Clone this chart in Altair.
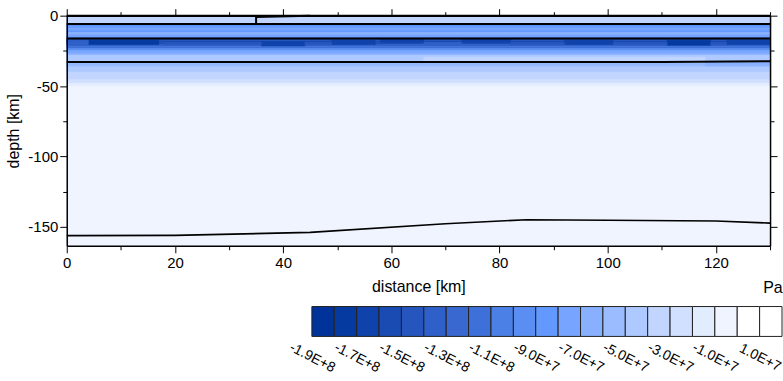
import altair as alt
import pandas as pd

FONT = "Liberation Sans"

# ---------------- data ----------------
X_DOMAIN = [0, 130]
DEPTH_DOMAIN = [-163.5, 0]

# horizontal stress bands (depth in km, value in 1E+6 Pa)
BAND_TOP = [0, -6.0, -7.5, -9.0, -10.5, -12.0, -13.5, -15.0, -16.0, -17.5, -19.0,
            -20.5, -22.0, -23.5, -25.0, -26.5, -28.0, -33.0, -34.5, -35.5, -36.5,
            -40.0, -45.5, -48.0, -50.0]
BAND_BOTTOM = [-6.0, -7.5, -9.0, -10.5, -12.0, -13.5, -15.0, -16.0, -17.5, -19.0,
               -20.5, -22.0, -23.5, -25.0, -26.5, -28.0, -33.0, -34.5, -35.5, -36.5,
               -40.0, -45.5, -48.0, -50.0, -163.5]
BAND_VALUE = [-35, -95, -85, -75, -85, -65, -75, -85, -145, -155, -155,
              -135, -115, -95, -75, -65, -45, -55, -65, -55, -45,
              -35, -25, -15, -5]

# local stress anomalies (patches)
BLOB_X0 = [4, 36, 49, 58, 73, 92, 111, 122, 0, 18, 44, 66, 82, 101, 119, 66, 118]
BLOB_X1 = [17, 44, 57, 66, 82, 101, 119, 130, 4, 36, 49, 73, 92, 111, 122, 118, 130]
BLOB_TOP = [-17.5, -18.5, -17.5, -16.5, -16.5, -17.5, -17.5, -17.5,
            -17.5, -19.0, -19.0, -19.0, -19.0, -19.0, -19.0, -29.5, -33.0]
BLOB_BOTTOM = [-20.5, -21.5, -20.5, -19.0, -19.0, -20.5, -21.0, -20.5,
               -20.5, -20.5, -20.5, -20.5, -20.5, -20.5, -20.5, -32.5, -35.5]
BLOB_VALUE = [-175, -165, -165, -165, -165, -165, -175, -165,
              -135, -145, -145, -135, -145, -145, -145, -35, -65]

# interfaces
IF1_X = [0, 130]
IF1_D = [-6.0, -6.0]
IF2_X = [0, 130]
IF2_D = [-16.2, -16.2]
IF3_X = [0, 60, 110, 130]
IF3_D = [-33.0, -33.0, -32.9, -32.4]
LAB_X = [0, 20, 45, 70, 85, 100, 120, 130]
LAB_D = [-156.3, -156.1, -154.0, -147.8, -145.0, -145.4, -145.9, -147.4]
SURF_X = [0, 130]
SURF_D = [0, 0]
WEDGE_X = [35, 45]
WEDGE_D = [-0.9, 0]
FAULT_X = [35, 35]
FAULT_D = [0, -6.0]

# colour levels (1E+6 Pa)
LEVELS = [-190, -180, -170, -160, -150, -140, -130, -120, -110, -100, -90,
          -80, -70, -60, -50, -40, -30, -20, -10, 0, 10, 20]
THRESHOLDS = [-180, -170, -160, -150, -140, -130, -120, -110, -100, -90,
              -80, -70, -60, -50, -40, -30, -20, -10, 0, 10]
COLORS = ["#00339a", "#053aa0", "#0f42aa", "#1a4bb3", "#2656bd", "#2f5fc8",
          "#3868d0", "#3d70d8", "#4b80e6", "#5a8ef3", "#6399ff", "#77a4ff",
          "#88b0ff", "#9bbdff", "#aec9ff", "#c1d5ff", "#d2e0ff", "#e2ecff",
          "#eff4ff", "#ffffff", "#ffffff"]
LABEL_VALUES = [-190, -170, -150, -130, -110, -90, -70, -50, -30, -10, 10]
LABEL_TEXTS = ["-1.9E+8", "-1.7E+8", "-1.5E+8", "-1.3E+8", "-1.1E+8", "-9.0E+7",
               "-7.0E+7", "-5.0E+7", "-3.0E+7", "-1.0E+7", "1.0E+7"]
LEGEND_DOMAIN = [-299.5, 20]

X_MAJOR = [0, 20, 40, 60, 80, 100, 120]
X_MINOR = [10, 30, 50, 70, 90, 110, 130]
Y_MAJOR = [0, -50, -100, -150]
Y_MINOR = [-25, -75, -125]

# ---------------- tables ----------------
bands = pd.DataFrame({"x0": [X_DOMAIN[0]] * len(BAND_TOP), "x1": [X_DOMAIN[1]] * len(BAND_TOP),
                      "top": BAND_TOP, "bottom": BAND_BOTTOM, "value": BAND_VALUE})
blobs = pd.DataFrame({"x0": BLOB_X0, "x1": BLOB_X1, "top": BLOB_TOP,
                      "bottom": BLOB_BOTTOM, "value": BLOB_VALUE})


def line_df(pairs):
    rows = []
    for name, xs_, ds_ in pairs:
        for i, (a, b) in enumerate(zip(xs_, ds_)):
            rows.append({"id": name, "o": i, "x": a, "d": b})
    return pd.DataFrame(rows)


interfaces = line_df([("i1", IF1_X, IF1_D), ("i2", IF2_X, IF2_D), ("i3", IF3_X, IF3_D)])
lab = line_df([("lab", LAB_X, LAB_D)])
surface = line_df([("s", SURF_X, SURF_D), ("w", WEDGE_X, WEDGE_D), ("f", FAULT_X, FAULT_D)])

color_scale = alt.Scale(type="threshold", domain=THRESHOLDS, range=COLORS)
xs = alt.Scale(domain=X_DOMAIN, nice=False, zero=False)
ys = alt.Scale(domain=DEPTH_DOMAIN, nice=False, zero=False)


def axis(orient, values, size, labels=False, domain=False, **kw):
    return alt.Axis(orient=orient, values=values, tickSize=size, ticks=True,
                    tickColor="black", tickWidth=1, domain=domain, domainColor="black",
                    domainWidth=1.5, grid=False, labels=labels, zindex=1,
                    labelFlush=False, labelOverlap=False, labelBound=False,
                    labelFontSize=15, labelColor="black", labelFont=FONT,
                    titleFontSize=16, titleFontWeight="normal", titleColor="black",
                    titleFont=FONT, **kw)


rect_base = alt.Chart(bands).mark_rect(strokeWidth=0.6).encode(
    x=alt.X("x0:Q", scale=xs, axis=axis("bottom", X_MAJOR, 7, labels=True, domain=True,
                                          title="distance [km]", labelPadding=3, titlePadding=8,
                                          labelExpr="datum.value + ''")),
    x2="x1:Q",
    y=alt.Y("top:Q", scale=ys, axis=axis("left", Y_MAJOR, 7, labels=True, domain=True,
                                         title="depth [km]", labelPadding=2, titlePadding=6,
                                         labelExpr="datum.value + ''")),
    y2="bottom:Q",
    color=alt.Color("value:Q", scale=color_scale, legend=None),
    stroke=alt.Stroke("value:Q", scale=color_scale, legend=None),
)

rect_blobs = alt.Chart(blobs).mark_rect(strokeWidth=0.6).encode(
    x=alt.X("x0:Q", scale=xs, axis=axis("top", X_MAJOR, 7, domain=True, title=None)),
    x2="x1:Q",
    y=alt.Y("top:Q", scale=ys, axis=axis("right", Y_MAJOR, 7, domain=True, title=None)),
    y2="bottom:Q",
    color=alt.Color("value:Q", scale=color_scale, legend=None),
    stroke=alt.Stroke("value:Q", scale=color_scale, legend=None),
)

lines_if = alt.Chart(interfaces).mark_line(color="black", strokeWidth=2).encode(
    x=alt.X("x:Q", scale=xs, axis=axis("bottom", X_MINOR, 4, title=None)),
    y=alt.Y("d:Q", scale=ys, axis=axis("left", Y_MINOR, 4, title=None)),
    detail="id:N", order="o:Q",
)

lines_lab = alt.Chart(lab).mark_line(color="black", strokeWidth=1.6).encode(
    x=alt.X("x:Q", scale=xs, axis=axis("top", X_MINOR, 4, title=None)),
    y=alt.Y("d:Q", scale=ys, axis=axis("right", Y_MINOR, 4, title=None)),
    detail="id:N", order="o:Q",
)

lines_surf = alt.Chart(surface).mark_line(color="black", strokeWidth=2).encode(
    x=alt.X("x:Q", scale=xs, axis=None),
    y=alt.Y("d:Q", scale=ys, axis=None),
    detail="id:N", order="o:Q",
)

main = alt.layer(rect_base, rect_blobs, lines_if, lines_lab, lines_surf).resolve_axis(
    x="independent", y="independent").properties(width=706, height=231)

leg = pd.DataFrame({"lo": LEVELS[:-1], "hi": LEVELS[1:],
                    "y0": [0] * (len(LEVELS) - 1), "y1": [1] * (len(LEVELS) - 1)})

label_expr = "[" + ",".join("'%s'" % t for t in LABEL_TEXTS) + "][indexof([" + \
    ",".join(str(v) for v in LABEL_VALUES) + "], datum.value)]"

legend = alt.Chart(leg).mark_rect(stroke="#222222", strokeWidth=1).encode(
    x=alt.X("lo:Q", scale=alt.Scale(domain=LEGEND_DOMAIN, nice=False, zero=False),
            axis=alt.Axis(values=LABEL_VALUES, labelExpr=label_expr, labelAngle=27,
                          labelAlign="center", labelBaseline="middle", labelPadding=21,
                          ticks=False, tickSize=0, domain=False, grid=False, title=None,
                          labelFontSize=14, labelOverlap=False, labelFlush=False,
                          labelBound=False, labelColor="black", labelFont=FONT)),
    x2="hi:Q",
    y=alt.Y("y0:Q", scale=alt.Scale(domain=[0, 1]), axis=None),
    y2="y1:Q",
    color=alt.Color("lo:Q", scale=color_scale, legend=None),
).properties(width=718, height=30,
             title=alt.TitleParams("Pa", anchor="end", fontSize=16, fontWeight="normal",
                                   offset=10, font=FONT, color="black"))

chart = alt.vconcat(main, legend, spacing=61, bounds="flush").properties(
    padding={"left": 5, "top": 7, "right": 0, "bottom": 0}
).configure(font=FONT).configure_view(strokeWidth=0, stroke="transparent")

chart.save("out.html", embed_options={"renderer": "svg", "actions": False})
